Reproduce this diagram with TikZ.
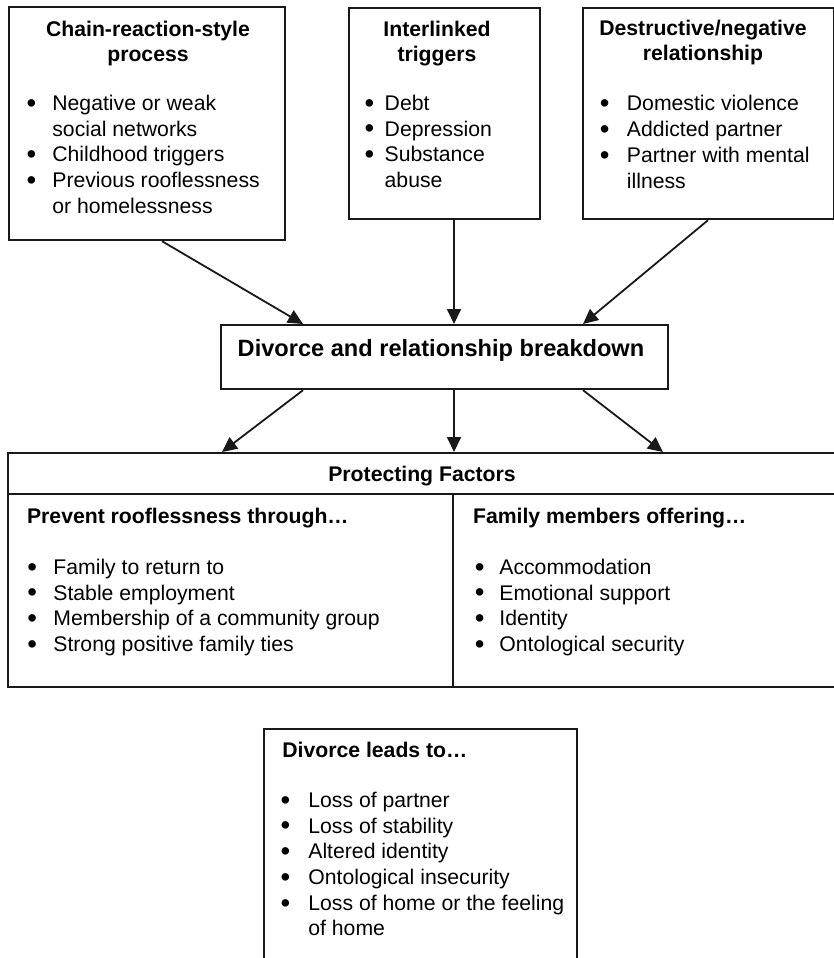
\documentclass[tikz,border=0pt]{standalone}
\usepackage{fontspec}
\usepackage{graphicx}
\setmainfont{Liberation Sans}
\usetikzlibrary{arrows.meta,calc}

% one drawing unit = 0.5pt
\newdimen\px \px=0.5pt
\newcommand\bodyfont{\fontsize{10.6pt}{12.85pt}\selectfont}
\newcommand\headfont{\bfseries\fontsize{10.6pt}{12.5pt}\selectfont}
\newcommand\bigfont{\bfseries\fontsize{11.8pt}{14pt}\selectfont}
% bullet with hanging indent, and the matching indent for wrapped lines
\newcommand\bu[1]{\makebox[#1\px][l]{\raisebox{-0.9pt}{\scalebox{1.3}{\textbullet}}}}
\newcommand\ind[1]{\hspace*{#1\px}}
\newcommand\firstline{\rule{0pt}{9pt}}

\begin{document}
\begin{tikzpicture}[x=0.5pt,y=-0.5pt,
  box/.style={draw=black!90, line width=1.1pt, rectangle, inner sep=0pt, anchor=north west},
  conn/.style={draw=black!90, line width=0.9pt, -{Triangle[length=7.5pt,width=7pt]}},
  ttl/.style={anchor=north, inner sep=0pt, align=center, font=\headfont},
  lst/.style={anchor=north west, inner sep=0pt, align=left, font=\bodyfont},
  hdg/.style={anchor=base west, inner sep=0pt, font=\headfont}]

\useasboundingbox (0,0) rectangle (834,958);

% ---- top row of boxes ----
\node[box, minimum width=276*0.5pt, minimum height=233*0.5pt] (chain) at (8,6) {};
\node[ttl] (chainT) at (148,18) {\firstline Chain-reaction-style\\process};
\node[lst] (chainL) at (26.3,92) {\firstline\bu{25.7}Negative or weak\\
  \ind{25.7}social networks\\
  \bu{25.7}Childhood triggers\\
  \bu{25.7}Previous rooflessness\\
  \ind{25.7}or homelessness};

\node[box, minimum width=191*0.5pt, minimum height=211*0.5pt] (inter) at (348,7) {};
\node[ttl] (interT) at (437,18) {\firstline Interlinked\\triggers};
\node[lst] (interL) at (364.3,92) {\firstline\bu{20}Debt\\
  \bu{20}Depression\\
  \bu{20}Substance\\
  \ind{20}abuse};

\node[box, minimum width=250.5*0.5pt, minimum height=211*0.5pt] (destr) at (582,7) {};
\node[ttl] (destrT) at (703,17) {\firstline Destructive/negative\\relationship};
\node[lst] (destrL) at (599.5,92.5) {\firstline\bu{27}Domestic violence\\
  \bu{27}Addicted partner\\
  \bu{27}Partner with mental\\
  \ind{27}illness};

% ---- central box ----
\node[box, minimum width=447*0.5pt, minimum height=64*0.5pt] (divorce) at (220,324) {};
\node[anchor=base, inner sep=0pt, font=\bigfont] (divorceT) at (441,356)
  {Divorce and relationship breakdown};

% ---- protecting factors ----
\node[box, minimum width=831*0.5pt, minimum height=234*0.5pt] (protect) at (7,452) {};
\draw[line width=1.1pt, draw=black!90] ($(protect.north west)+(0,42)$) -- ($(protect.north east)+(0,42)$);
\draw[line width=1.1pt, draw=black!90] ($(protect.north west)+(446,42)$) -- ($(protect.south west)+(446,0)$);
\node[anchor=base, inner sep=0pt, font=\headfont] (protectT) at (422,481) {Protecting Factors};

\node[hdg] (preventH) at (26.7,523) {Prevent rooflessness through\dots};
\node[lst] (preventL) at (27,556) {\firstline\bu{26}Family to return to\\
  \bu{26}Stable employment\\
  \bu{26}Membership of a community group\\
  \bu{26}Strong positive family ties};

\node[hdg] (familyH) at (472.7,523) {Family members offering\dots};
\node[lst] (familyL) at (474.5,556) {\firstline\bu{24.5}Accommodation\\
  \bu{24.5}Emotional support\\
  \bu{24.5}Identity\\
  \bu{24.5}Ontological security};

% ---- consequences ----
\node[box, minimum width=313*0.5pt, minimum height=260*0.5pt] (leads) at (263,728) {};
\node[hdg] (leadsH) at (282,757) {Divorce leads to\dots};
\node[lst] (leadsL) at (280.3,789) {\firstline\bu{27.7}Loss of partner\\
  \bu{27.7}Loss of stability\\
  \bu{27.7}Altered identity\\
  \bu{27.7}Ontological insecurity\\
  \bu{27.7}Loss of home or the feeling\\
  \ind{27.7}of home};

% ---- connectors ----
\draw[conn] ($(chain.south west)+(154,0)$) -- ($(divorce.north west)+(83,0)$);
\draw[conn] ($(inter.south west)+(106,0)$) -- ($(divorce.north west)+(234,0)$);
\draw[conn] ($(destr.south west)+(126,0)$) -- ($(divorce.north west)+(363,0)$);

\draw[conn] ($(divorce.south west)+(83,0)$) -- ($(protect.north west)+(215,0)$);
\draw[conn] ($(divorce.south west)+(234,0)$) -- ($(protect.north west)+(447,0)$);
\draw[conn] ($(divorce.south west)+(363,0)$) -- ($(protect.north west)+(656,0)$);
\end{tikzpicture}
\end{document}
